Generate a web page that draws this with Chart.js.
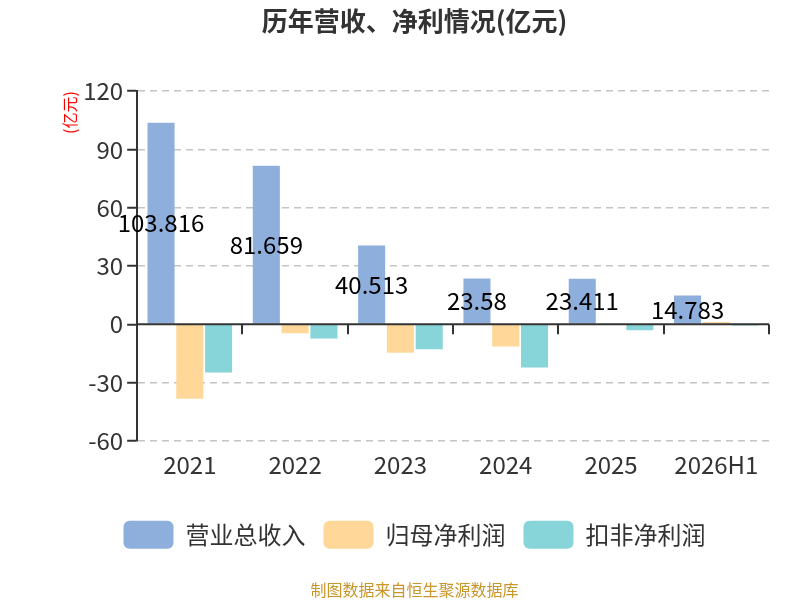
<!DOCTYPE html>
<html>
<head>
<meta charset="utf-8">
<script src="https://cdn.jsdelivr.net/npm/chart.js@4.4.1/dist/chart.umd.min.js"></script>
<style>
html,body{margin:0;padding:0;background:#fff;}
#wrap{width:800px;height:600px;position:relative;}
</style>
</head>
<body>
<div id="wrap"><canvas id="c" width="800" height="600"></canvas></div>
<script>
const categories = ['2021','2022','2023','2024','2025','2026H1'];
const revenue = [103.816, 81.659, 40.513, 23.58, 23.411, 14.783];
const netProfit = [-38.3, -4.6, -14.7, -11.5, -0.3, 1.2];
const deductedProfit = [-24.8, -7.3, -12.9, -22.2, -3.1, -0.6];
const revenueLabels = ['103.816','81.659','40.513','23.58','23.411','14.783'];
const yTicks = [-60, -30, 0, 30, 60, 90, 120];

const FONT = '"Noto Sans CJK SC", "Noto Sans", sans-serif';

const decor = {
  id: 'decor',
  afterDatasetsDraw(chart) {
    const ctx = chart.ctx;
    const x = chart.scales.x, y = chart.scales.y;
    const y0 = y.getPixelForValue(0);
    ctx.save();
    ctx.strokeStyle = '#333';
    ctx.lineWidth = 2;
    ctx.beginPath();
    ctx.moveTo(x.left, y0);
    ctx.lineTo(x.right, y0);
    ctx.stroke();
    const n = categories.length;
    const w = (x.right - x.left) / n;
    for (let i = 1; i <= n; i++) {
      const px = Math.round(x.left + w * i);
      ctx.beginPath();
      ctx.moveTo(px, y0);
      ctx.lineTo(px, y0 + 10);
      ctx.stroke();
    }
    const meta = chart.getDatasetMeta(0);
    ctx.fillStyle = '#000';
    ctx.font = '24px ' + FONT;
    ctx.textAlign = 'center';
    ctx.textBaseline = 'middle';
    meta.data.forEach((bar, i) => {
      const cy = (bar.y + bar.base) / 2;
      ctx.fillText(revenueLabels[i], bar.x, cy);
    });
    ctx.restore();
  }
};

new Chart(document.getElementById('c'), {
  type: 'bar',
  data: {
    labels: categories,
    datasets: [
      { label: '营业总收入', data: revenue, backgroundColor: '#8eaedc' },
      { label: '归母净利润', data: netProfit, backgroundColor: '#ffd899' },
      { label: '扣非净利润', data: deductedProfit, backgroundColor: '#87d5d8' }
    ]
  },
  options: {
    responsive: false,
    animation: false,
    devicePixelRatio: 1,
    layout: { padding: { left: 60, right: 31, top: 6, bottom: 0 } },
    datasets: { bar: { categoryPercentage: 0.82, barPercentage: 0.94 } },
    plugins: {
      title: {
        display: true,
        text: '历年营收、净利情况(亿元)',
        color: '#333',
        font: { size: 26, weight: 'bold', family: FONT },
        padding: { top: 0, bottom: 54 }
      },
      subtitle: {
        display: true,
        position: 'bottom',
        text: '制图数据来自恒生聚源数据库',
        color: '#c8962a',
        font: { size: 16, family: FONT },
        padding: { top: 22, bottom: 0 }
      },
      legend: {
        position: 'bottom',
        title: { display: true, text: '', font: { size: 1 }, padding: { top: 10, bottom: 10 } },
        labels: {
          boxWidth: 50,
          boxHeight: 28,
          useBorderRadius: true,
          borderRadius: 6,
          color: '#333',
          padding: 18,
          font: { size: 24, family: FONT }
        }
      },
      tooltip: { enabled: false }
    },
    scales: {
      x: {
        grid: { display: false },
        border: { display: false },
        ticks: { color: '#333', font: { size: 24, family: FONT }, padding: 2 }
      },
      y: {
        min: -60,
        max: 120,
        afterBuildTicks(scale) { scale.ticks = yTicks.map(v => ({ value: v })); },
        border: { display: true, color: '#333', width: 2, dash: [7, 5] },
        grid: {
          color: (c) => c.tick && c.tick.value === 0 ? 'rgba(0,0,0,0)' : '#c4c4c4',
          lineWidth: 1.5,
          tickColor: '#333',
          tickLength: 10,
          tickWidth: 2
        },
        ticks: { color: '#333', font: { size: 24, family: FONT }, padding: 4 },
        title: {
          display: true,
          text: '(亿元)',
          color: '#ff0000',
          align: 'end',
          font: { size: 16, family: FONT },
          padding: { top: 0, bottom: 0 }
        }
      }
    }
  },
  plugins: [decor]
});
</script>
</body>
</html>
